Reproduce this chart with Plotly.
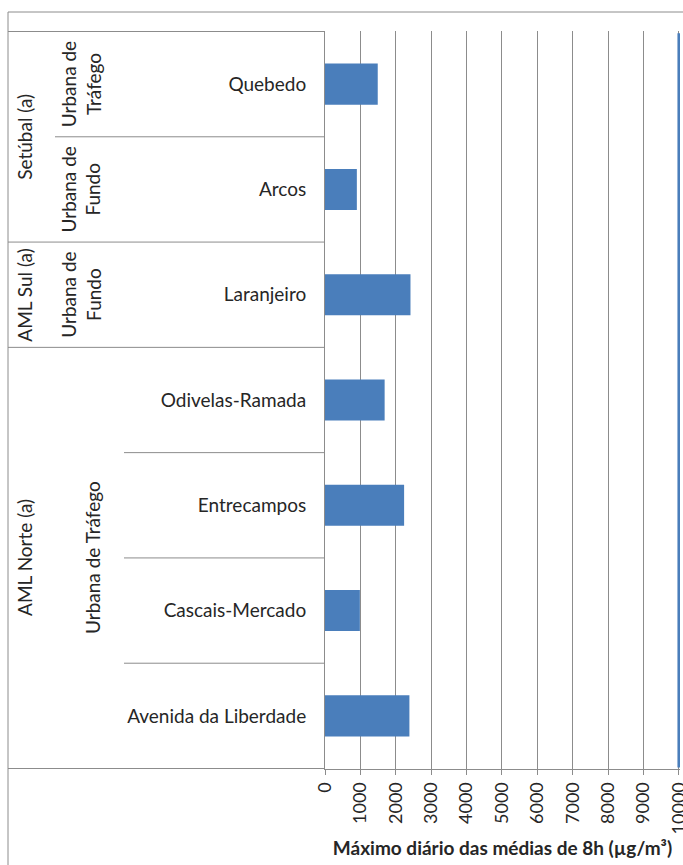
import plotly.graph_objects as go

# ---------------- data ----------------
stations = ["Quebedo", "Arcos", "Laranjeiro", "Odivelas-Ramada",
            "Entrecampos", "Cascais-Mercado", "Avenida da Liberdade"]
station_types = ["Urbana de Tráfego", "Urbana de Fundo", "Urbana de Fundo",
                 "Urbana de Tráfego", "Urbana de Tráfego", "Urbana de Tráfego",
                 "Urbana de Tráfego"]
regions = ["Setúbal (a)", "Setúbal (a)", "AML Sul (a)",
           "AML Norte (a)", "AML Norte (a)", "AML Norte (a)", "AML Norte (a)"]
values = [1490, 900, 2415, 1685, 2235, 985, 2385]
limit_value = 10000
x_ticks = [0, 1000, 2000, 3000, 4000, 5000, 6000, 7000, 8000, 9000, 10000]
x_title = "Máximo diário das médias de 8h (µg/m³)"

# ---------------- layout constants ----------------
W, H = 683, 865
ML, MR, MT = 325, 3, 31
MB = H - 769
PW = W - ML - MR
PH = H - MT - MB
FONT = "Lato"
TXT = "#262626"
GRAY = "#8C8C8C"
BLUE = "#4A7EBB"


def px_x(px):
    """page pixel x -> paper x"""
    return (px - ML) / PW


def px_y(py):
    """page pixel y -> paper y"""
    return (H - MB - py) / PH


fig = go.Figure()
fig.add_trace(go.Bar(
    x=values, y=stations, orientation="h",
    marker=dict(color=BLUE, line=dict(width=0)),
    hoverinfo="x+y",
))

shapes = []
annotations = []

# limit value line
shapes.append(dict(type="line", xref="x", yref="paper",
                   x0=limit_value, x1=limit_value, y0=0.002, y1=0.997,
                   line=dict(color=BLUE, width=3), layer="above"))

# outer frame
shapes.append(dict(type="rect", xref="paper", yref="paper",
                   x0=px_x(8), x1=px_x(700), y0=px_y(880), y1=px_y(12),
                   line=dict(color=GRAY, width=1), fillcolor="rgba(0,0,0,0)",
                   layer="below"))

# table horizontal lines
n = len(stations)
shapes.append(dict(type="line", xref="paper", yref="y",
                   x0=px_x(8), x1=0, y0=-0.5, y1=-0.5,
                   line=dict(color=GRAY, width=1)))
shapes.append(dict(type="line", xref="paper", yref="y",
                   x0=px_x(8), x1=0, y0=n - 0.5, y1=n - 0.5,
                   line=dict(color=GRAY, width=1)))
for i in range(n - 1):
    if regions[i] != regions[i + 1]:
        start = 8
    elif station_types[i] != station_types[i + 1]:
        start = 55
    else:
        start = 124
    shapes.append(dict(type="line", xref="paper", yref="y",
                       x0=px_x(start), x1=0, y0=i + 0.5, y1=i + 0.5,
                       line=dict(color=GRAY, width=1)))


def runs(keys):
    out = []
    s = 0
    for i in range(1, len(keys) + 1):
        if i == len(keys) or keys[i] != keys[s]:
            out.append((s, i - 1))
            s = i
    return out


# region labels
for s, e in runs(regions):
    annotations.append(dict(xref="paper", yref="y", x=px_x(25), y=(s + e) / 2,
                            text=regions[s], textangle=-90, showarrow=False,
                            xanchor="center", yanchor="middle",
                            font=dict(family=FONT, size=19, color=TXT)))

# type labels
type_keys = [r + "|" + t for r, t in zip(regions, station_types)]
for s, e in runs(type_keys):
    label = station_types[s]
    if s == e:
        label = label.replace(" de ", " de<br>")
        xc = 81
    else:
        xc = 93
    annotations.append(dict(xref="paper", yref="y", x=px_x(xc), y=(s + e) / 2,
                            text=label, textangle=-90, showarrow=False,
                            xanchor="center", yanchor="middle",
                            font=dict(family=FONT, size=19, color=TXT)))

fig.update_layout(
    width=W, height=H,
    margin=dict(l=ML, r=MR, t=MT, b=MB, pad=0, autoexpand=False),
    paper_bgcolor="white", plot_bgcolor="white",
    showlegend=False,
    bargap=0.61,
    font=dict(family=FONT, size=19, color=TXT),
    shapes=shapes,
    annotations=annotations,
    xaxis=dict(
        automargin=False,
        range=[0, 10030], tickvals=x_ticks,
        ticktext=[str(v) for v in x_ticks],
        tickangle=-90, tickfont=dict(family=FONT, size=18, color=TXT),
        ticklabeloverflow="allow",
        showgrid=True, gridcolor=GRAY, gridwidth=1,
        showline=True, linecolor=GRAY, linewidth=1,
        ticks="outside", ticklen=5, tickcolor=GRAY,
        zeroline=False,
        title=dict(text="<b>" + x_title + "</b>",
                   font=dict(family=FONT, size=19, color=TXT), standoff=8),
    ),
    yaxis=dict(
        automargin=False,
        categoryorder="array", categoryarray=stations,
        autorange="reversed",
        showgrid=False, zeroline=False,
        showline=True, linecolor=GRAY, linewidth=1,
        ticks="", ticklabelstandoff=14,
        tickfont=dict(family=FONT, size=19, color=TXT),
    ),
)

fig.write_html(
    "out.html",
    config={"displayModeBar": False},
    post_script=("document.body.style.margin='0';"
                 "document.documentElement.style.overflow='hidden';"),
)
